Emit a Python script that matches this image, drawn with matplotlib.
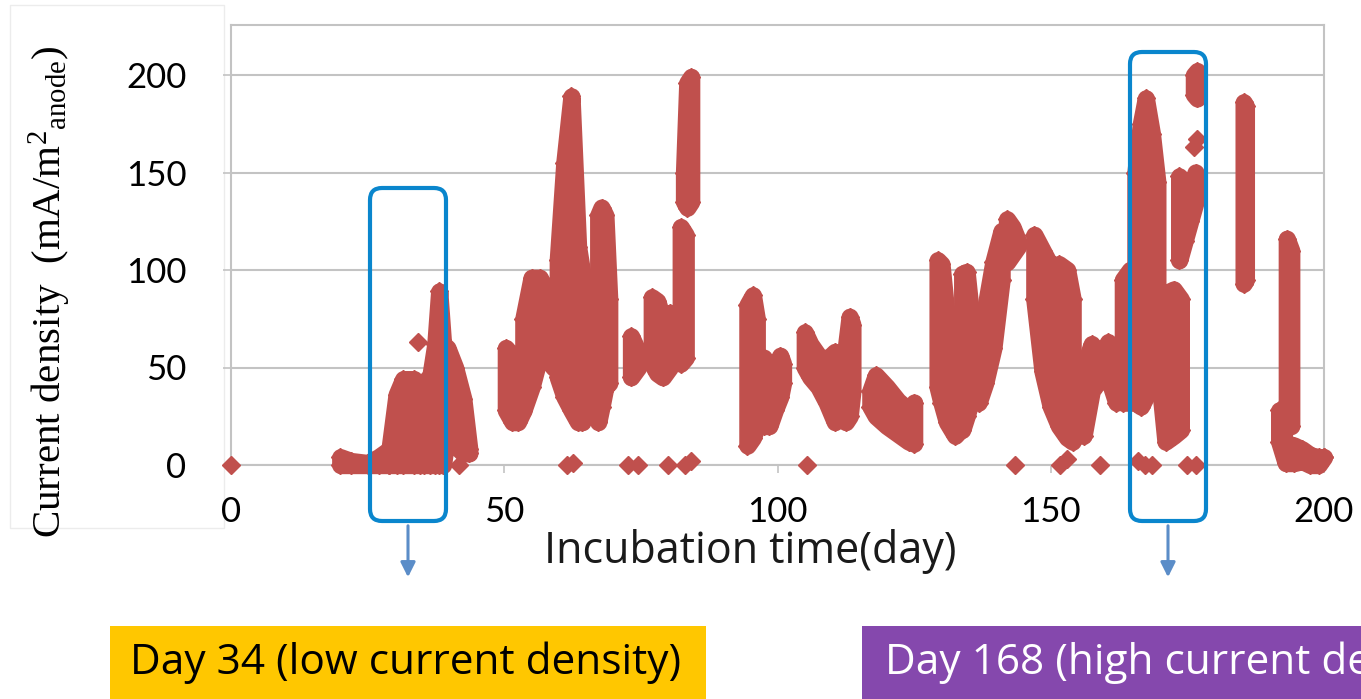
import matplotlib
matplotlib.use('Agg')
import matplotlib.pyplot as plt
from matplotlib.patches import FancyBboxPatch, FancyArrowPatch, Rectangle
from matplotlib.transforms import IdentityTransform

# ---------------- data ----------------
# Dense bursts of measurements: per burst, days with lower / upper envelope
burst_days = [
    [20, 22, 25, 27, 29],
    [29, 30.3, 31.5, 33.5, 34.6, 35.3, 36.5, 37.4, 38.1, 38.8, 39.6, 41, 42.5, 43.6],
    [50.3, 51.5, 52.5, 53.5],
    [53.5, 55, 56.5, 57.5, 59],
    [59.8, 61, 62.3, 63.5, 64.3],
    [67.2, 67.8, 68.5, 69.2],
    [73.2, 74.5],
    [77, 78, 79, 80.3],
    [82.3, 83.2],
    [82.9, 83.5, 84.2],
    [94.5, 95.5, 96.2],
    [97.5, 98.5, 99.5, 100.5, 101],
    [105, 106, 107.5, 109, 110.5],
    [112.5, 113.2, 113.7],
    [117, 118, 120, 122, 124, 125],
    [129.3, 130, 131, 132.5, 133.5],
    [133.8, 134.6, 135.3],
    [136.8, 138, 139.5, 141],
    [142, 143, 144],
    [147, 148.5, 150, 151.5, 153, 154],
    [156, 157.5, 159, 160.5, 162, 163],
    [163.2, 164.5],
    [165.5, 166.5, 167.4, 168.5, 169.5],
    [170, 171, 172.5, 173.8],
    [173.5, 174.5, 175.5, 176.5],
    [176.2, 176.8],
    [185.3, 185.7],
    [193.2, 194],
    [191.8, 193, 194.5, 196, 197.5, 199, 200],
]
burst_low = [
    [0, 0, 0, 0, 0],
    [0, 0, 0, 0, 0, 0, 0, 0, 0, 0, 18, 10, 6, 6],
    [28, 22, 22, 28],
    [28, 40, 56, 56, 50],
    [45, 35, 28, 22, 22],
    [22, 30, 40, 42],
    [45, 50],
    [52, 47, 45, 50],
    [52, 55],
    [135, 132, 135],
    [10, 14, 20],
    [20, 20, 28, 35, 42],
    [50, 45, 40, 32, 22],
    [22, 25, 38],
    [30, 25, 20, 16, 12, 11],
    [40, 32, 22, 15, 18],
    [18, 25, 32],
    [32, 42, 60, 95],
    [104, 108, 112],
    [85, 48, 30, 20, 14, 12],
    [15, 38, 44, 45, 32, 34],
    [32, 32],
    [32, 30, 35, 60, 88],
    [40, 12, 15, 18],
    [105, 115, 125, 135],
    [190, 188],
    [93, 95],
    [25, 20],
    [12, 1, 1, 2, 0, 0, 4],
]
burst_high = [
    [4, 2, 1, 4, 8],
    [8, 36, 44, 44, 28, 42, 46, 62, 89, 62, 60, 50, 34, 8],
    [60, 56, 55, 60],
    [75, 96, 96, 90, 90],
    [105, 155, 189, 112, 98],
    [128, 132, 128, 85],
    [66, 58],
    [86, 84, 75, 78],
    [122, 118],
    [150, 196, 199],
    [82, 87, 75],
    [55, 48, 50, 56, 52],
    [68, 62, 56, 54, 58],
    [60, 76, 72],
    [38, 46, 40, 33, 28, 32],
    [105, 103, 75, 58, 40],
    [98, 99, 80],
    [60, 80, 104, 120],
    [126, 122, 115],
    [118, 110, 102, 103, 100, 85],
    [50, 62, 55, 63, 55, 62],
    [95, 100],
    [150, 175, 188, 170, 145],
    [85, 88, 90, 85],
    [148, 145, 140, 150],
    [200, 202],
    [186, 184],
    [116, 110],
    [28, 10, 10, 8, 5, 4, 4],
]
# Isolated single measurements
single_days = [0, 34.3, 41.8, 61.5, 62.6, 72.7, 74.5, 80, 83, 84.2, 105.4,
               143.5, 151.7, 153, 159, 166, 167.2, 168.5, 175, 176.5, 176.3, 176.8]
single_vals = [0, 63, 0, 0, 1, 0, 0, 0, 0, 2, 0,
               0, 0, 3, 0, 2, 0, 0, 0, 0, 163, 167]

x_ticks = [0, 50, 100, 150, 200]
y_ticks = [0, 50, 100, 150, 200]

# ---------------- figure ----------------
W, H = 1361, 699
fig = plt.figure(figsize=(W / 100, H / 100), dpi=100)
plt.rcParams['mathtext.fontset'] = 'custom'
plt.rcParams['mathtext.rm'] = 'Liberation Serif'
plt.rcParams['mathtext.it'] = 'Liberation Serif:italic'


def fx(px):
    return px / W


def fy(py):
    return 1 - py / H


RED = '#c0504d'
GRID = '#c3c3c3'
TICKFONT = 'Lato'
TEXTFONT = 'Open Sans'

# faint panel behind y-label
fig.add_artist(Rectangle((10, H - 528), 214, 523, transform=IdentityTransform(),
                         facecolor='white', edgecolor='#ececec', lw=1, zorder=0))

ax = fig.add_axes([fx(231), fy(465), fx(1324) - fx(231), fy(25) - fy(465)])
ax.set_xlim(0, 200)
ax.set_ylim(0, (465 - 25) / 1.95)

for d, lo, hi in zip(burst_days, burst_low, burst_high):
    ax.fill_between(d, lo, hi, facecolor=RED, edgecolor=RED, linewidth=12.5,
                    joinstyle='round', clip_on=False, zorder=3)
    ax.plot(d, hi, 'D', ms=9.5, color=RED, mec=RED, clip_on=False, zorder=3)
    ax.plot(d, lo, 'D', ms=9.5, color=RED, mec=RED, clip_on=False, zorder=3)

ax.plot(single_days, single_vals, 'D', ms=9.5, color=RED, mec=RED, ls='none',
        clip_on=False, zorder=3)

ax.set_yticks(y_ticks)
ax.set_xticks(x_ticks)
ax.set_yticklabels([str(v) for v in y_ticks], fontsize=25, family=TICKFONT)
ax.set_xticklabels([str(v) for v in x_ticks], fontsize=25, family=TICKFONT)
ax.tick_params(axis='y', length=6, width=1.2, color=GRID, pad=26)
ax.tick_params(axis='x', length=6, width=1.2, color=GRID, pad=16)
ax.grid(axis='y', color=GRID, lw=1.5)
ax.set_axisbelow(True)
for s in ax.spines.values():
    s.set_color(GRID)
    s.set_linewidth(1.5)

# axis labels
fig.text(fx(750), fy(552), 'Incubation time(day)', fontsize=31, family=TEXTFONT,
         ha='center', va='center', color='#1a1a1a')
fig.text(fx(50), fy(292), r'Current density  (mA/m$^{2}$$_{\mathrm{anode}}$)',
         rotation=90, fontsize=29.5, family='Liberation Serif', ha='center', va='center')

# highlight boxes
BLUE = '#0a86cd'
for x0, y0, x1, y1 in [(370, 188, 446, 521), (1130, 52, 1206, 521)]:
    fig.add_artist(FancyBboxPatch((x0, H - y1), x1 - x0, y1 - y0,
                                  boxstyle='round,pad=0,rounding_size=12',
                                  transform=IdentityTransform(), facecolor='none',
                                  edgecolor=BLUE, lw=3, zorder=5))
    xc = (x0 + x1) / 2
    fig.add_artist(FancyArrowPatch((xc, H - y1 - 2), (xc, H - 580),
                                   transform=IdentityTransform(), arrowstyle='-|>',
                                   mutation_scale=22, color='#5b8dc8', lw=2.2, zorder=5))

# caption boxes
fig.add_artist(Rectangle((110, 0), 596, H - 626, transform=IdentityTransform(),
                         facecolor='#ffc700', edgecolor='none', zorder=1))
fig.add_artist(Rectangle((862, 0), 520, H - 626, transform=IdentityTransform(),
                         facecolor='#8548ad', edgecolor='none', zorder=1))
fig.text(fx(406), fy(663), 'Day 34 (low current density)', fontsize=30.5, family=TEXTFONT,
         ha='center', va='center', color='black', zorder=2)
fig.text(fx(885), fy(663), 'Day 168 (high current density)', fontsize=30.5, family=TEXTFONT,
         ha='left', va='center', color='white', zorder=2)

fig.savefig('out.png', dpi=100)
